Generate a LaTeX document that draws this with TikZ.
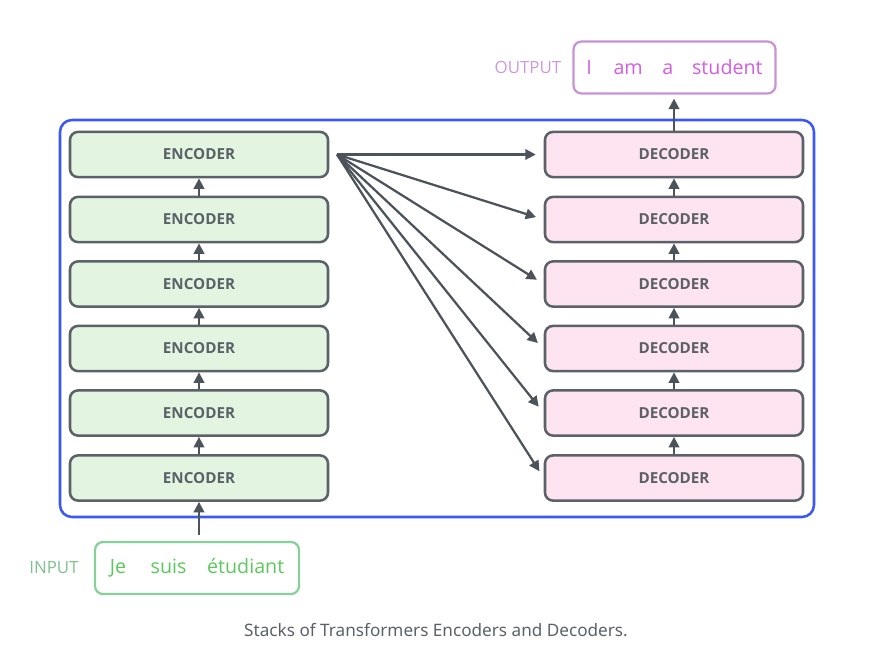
\documentclass[tikz,border=0pt]{standalone}
\usepackage{fontspec}
\setmainfont{Open Sans}
\newfontfamily\captionfont{Noto Sans}
\usetikzlibrary{arrows.meta}
\definecolor{boxline}{HTML}{5B6168}
\definecolor{arrowgray}{HTML}{4D535A}
\definecolor{encfill}{HTML}{E3F5E1}
\definecolor{decfill}{HTML}{FDE4F0}
\definecolor{frameblue}{HTML}{3B57F5}
\definecolor{outline}{HTML}{C792D6}
\definecolor{outtext}{HTML}{D35CE3}
\definecolor{outlabel}{HTML}{CC99DD}
\definecolor{inline}{HTML}{86D09A}
\definecolor{intext}{HTML}{5CC85C}
\definecolor{inlabel}{HTML}{7FC08F}
\begin{document}
\begin{tikzpicture}[scale=0.25,
  layer/.style={draw=boxline, line width=1.8pt, rounded corners=0.2cm, minimum width=6.45cm, minimum height=1.13cm, font=\fontsize{10.8}{12}\selectfont\bfseries, text=boxline},
  enc/.style={layer, fill=encfill},
  dec/.style={layer, fill=decfill},
  wordbox/.style={line width=1.6pt, rounded corners=0.2cm, minimum height=1.3cm, font=\fontsize{14}{16}\selectfont},
  flow/.style={draw=arrowgray, line width=1.6pt, -{Triangle[length=2.6mm,width=2.6mm]}}]
\useasboundingbox (0,0) rectangle (88.9,-66.6);
\draw [frameblue, line width=1.8pt, rounded corners=0.3cm] (6.0,-12.0) rectangle (81.4,-51.7);
% encoder stack
\node [enc] (e1) at (19.9,-47.8) {ENCODER};
\node [enc] (e2) at (19.9,-41.3) {ENCODER};
\node [enc] (e3) at (19.9,-34.85) {ENCODER};
\node [enc] (e4) at (19.9,-28.4) {ENCODER};
\node [enc] (e5) at (19.9,-21.95) {ENCODER};
\node [enc] (e6) at (19.9,-15.45) {ENCODER};
% decoder stack
\node [dec] (d1) at (67.4,-47.8) {DECODER};
\node [dec] (d2) at (67.4,-41.3) {DECODER};
\node [dec] (d3) at (67.4,-34.85) {DECODER};
\node [dec] (d4) at (67.4,-28.4) {DECODER};
\node [dec] (d5) at (67.4,-21.95) {DECODER};
\node [dec] (d6) at (67.4,-15.45) {DECODER};
% input and output
\node [wordbox, draw=inline, text=intext, minimum width=5.1cm] (in) at (19.7,-56.8) {Je\hspace{1.25em}suis\hspace{1.05em}étudiant};
\node [text=inlabel, font=\fontsize{12}{14}\selectfont] (inlbl) at (5.4,-56.8) {INPUT};
\node [wordbox, draw=outline, text=outtext, minimum width=5.05cm] (out) at (67.45,-6.75) {I\hspace{1.1em}am\hspace{1em}a\hspace{0.95em}student};
\node [text=outlabel, font=\fontsize{12}{14}\selectfont] (outlbl) at (52.8,-6.7) {OUTPUT};
\node [text=boxline, font=\captionfont\fontsize{12.2}{14}\selectfont] (cap) at (43.6,-63.0) {Stacks of Transformers Encoders and Decoders.};
% arrows up the stacks
\draw [flow, shorten <=0.15cm] (in.north -| e1.south) -- (e1.south);
\draw [flow] (e1.north) -- (e2.south);
\draw [flow] (e2.north) -- (e3.south);
\draw [flow] (e3.north) -- (e4.south);
\draw [flow] (e4.north) -- (e5.south);
\draw [flow] (e5.north) -- (e6.south);
\draw [flow] (d1.north) -- (d2.south);
\draw [flow] (d2.north) -- (d3.south);
\draw [flow] (d3.north) -- (d4.south);
\draw [flow] (d4.north) -- (d5.south);
\draw [flow] (d5.north) -- (d6.south);
\draw [flow, shorten >=0.1cm] (d6.north) -- (d6.north |- out.south);
% encoder output to every decoder
\coordinate (fan) at (33.7,-15.45);
\draw [flow, shorten >=0.2cm] (fan) -- (d6.west);
\draw [flow, shorten >=0.2cm] (fan) -- (d5.west);
\draw [flow, shorten >=0.2cm] (fan) -- (d4.west);
\draw [flow, shorten >=0.2cm] (fan) -- (d3.west);
\draw [flow, shorten >=0.2cm] (fan) -- (d2.west);
\draw [flow, shorten >=0.2cm] (fan) -- (d1.west);
\end{tikzpicture}
\end{document}
